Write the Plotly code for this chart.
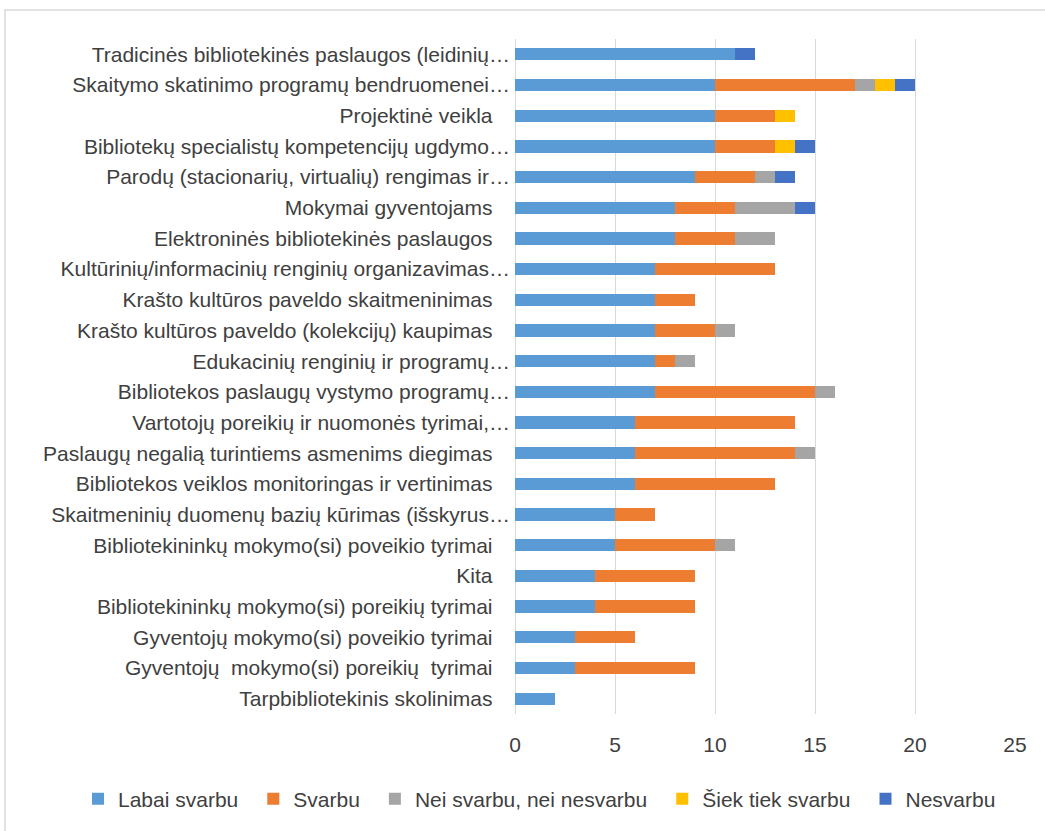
import plotly.graph_objects as go

categories = [
    "Tradicinės bibliotekinės paslaugos (leidinių…",
    "Skaitymo skatinimo programų bendruomenei…",
    "Projektinė veikla",
    "Bibliotekų specialistų kompetencijų ugdymo…",
    "Parodų (stacionarių, virtualių) rengimas ir…",
    "Mokymai gyventojams",
    "Elektroninės bibliotekinės paslaugos",
    "Kultūrinių/informacinių renginių organizavimas…",
    "Krašto kultūros paveldo skaitmeninimas",
    "Krašto kultūros paveldo (kolekcijų) kaupimas",
    "Edukacinių renginių ir programų…",
    "Bibliotekos paslaugų vystymo programų…",
    "Vartotojų poreikių ir nuomonės tyrimai,…",
    "Paslaugų negalią turintiems asmenims diegimas",
    "Bibliotekos veiklos monitoringas ir vertinimas",
    "Skaitmeninių duomenų bazių kūrimas (išskyrus…",
    "Bibliotekininkų mokymo(si) poveikio tyrimai",
    "Kita",
    "Bibliotekininkų mokymo(si) poreikių tyrimai",
    "Gyventojų mokymo(si) poveikio tyrimai",
    "Gyventojų  mokymo(si) poreikių  tyrimai",
    "Tarpbibliotekinis skolinimas",
]

labai_svarbu = [11, 10, 10, 10, 9, 8, 8, 7, 7, 7, 7, 7, 6, 6, 6, 5, 5, 4, 4, 3, 3, 2]
svarbu       = [0, 7, 3, 3, 3, 3, 3, 6, 2, 3, 1, 8, 8, 8, 7, 2, 5, 5, 5, 3, 6, 0]
nei          = [0, 1, 0, 0, 1, 3, 2, 0, 0, 1, 1, 1, 0, 1, 0, 0, 1, 0, 0, 0, 0, 0]
siek_tiek    = [0, 1, 1, 1, 0, 0, 0, 0, 0, 0, 0, 0, 0, 0, 0, 0, 0, 0, 0, 0, 0, 0]
nesvarbu     = [1, 1, 0, 1, 1, 1, 0, 0, 0, 0, 0, 0, 0, 0, 0, 0, 0, 0, 0, 0, 0, 0]

series_names = ["Labai svarbu", "Svarbu", "Nei svarbu, nei nesvarbu", "Šiek tiek svarbu", "Nesvarbu"]
series_values = [labai_svarbu, svarbu, nei, siek_tiek, nesvarbu]
colors = ["#5B9BD5", "#ED7D31", "#A5A5A5", "#FFC000", "#4472C4"]

FONT = "Liberation Sans, Arial, sans-serif"
TXT = "#404040"
GRID = "#d9d9d9"

# Excel leaves a trailing gap on labels that are not truncated
display = [c if c.endswith("…") else c + "\u00a0\u00a0\u00a0" for c in categories]

fig = go.Figure()
for name, vals, col in zip(series_names, series_values, colors):
    fig.add_trace(go.Bar(
        y=display, x=vals, name=name + "\u00a0\u2009", orientation="h",
        marker=dict(color=col, line=dict(width=0)),
    ))

FW, FH = 1045, 831
L, R, T, B = 515, 30, 39, 117
W, H = FW - L - R, FH - T - B

fig.update_layout(
    width=FW, height=FH,
    barmode="stack", bargap=0.6,
    margin=dict(l=L, r=R, t=T, b=B, autoexpand=False),
    paper_bgcolor="white", plot_bgcolor="white",
    font=dict(family=FONT, size=21, color=TXT),
    xaxis=dict(range=[0, 25], dtick=5, tick0=0, showgrid=True, gridcolor=GRID, gridwidth=1,
               zeroline=True, zerolinecolor=GRID, zerolinewidth=1,
               showline=False, ticks="", ticklabelstandoff=16,
               tickfont=dict(size=21, color=TXT)),
    yaxis=dict(autorange="reversed", showgrid=False, showline=False, ticks="",
               ticklabelstandoff=4, tickfont=dict(size=21, color=TXT), type="category"),
    legend=dict(orientation="h", x=(78 - L) / W, xanchor="left", y=(FH - B - 799) / H,
                yanchor="middle", font=dict(size=21, color=TXT), traceorder="normal",
                bgcolor="rgba(0,0,0,0)"),
    showlegend=True,
)

fig.add_shape(type="rect", xref="paper", yref="paper",
              x0=(5 - L) / W, x1=(1050 - L) / W,
              y0=(FH - B - 845) / H, y1=(FH - B - 10) / H,
              line=dict(color=GRID, width=1.5), fillcolor="rgba(0,0,0,0)", layer="below")

fig.write_html("out.html", config={"displayModeBar": False},
               post_script="document.body.style.margin='0';")
